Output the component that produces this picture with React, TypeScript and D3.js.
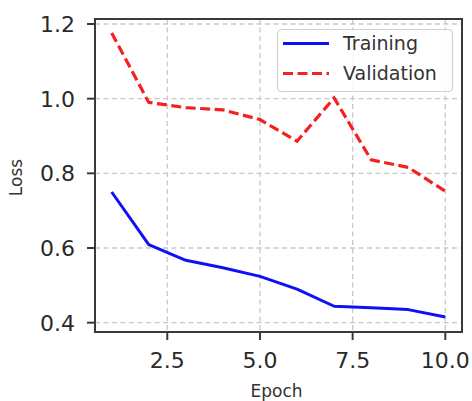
import React, { useRef, useEffect } from 'react';
import * as d3 from 'd3';

const epochs = [1, 2, 3, 4, 5, 6, 7, 8, 9, 10];
const trainingLoss = [0.75, 0.609, 0.567, 0.547, 0.524, 0.49, 0.444, 0.44, 0.435, 0.415];
const validationLoss = [1.176, 0.99, 0.976, 0.97, 0.944, 0.886, 1.002, 0.836, 0.816, 0.752];
const xTicks = [2.5, 5.0, 7.5, 10.0];
const yTicks = [0.4, 0.6, 0.8, 1.0, 1.2];

const App = () => {
  const svgRef = useRef(null);

  useEffect(() => {
    const svg = d3.select(svgRef.current);
    svg.selectAll('*').remove();

    const width = 472;
    const height = 401;
    const left = 95, right = 462, top = 19, bottom = 332;
    const font = 'DejaVu Sans, sans-serif';

    const x = d3.scaleLinear().domain([0.55, 10.45]).range([left, right]);
    const y = d3.scaleLinear().domain([0.375, 1.2134]).range([bottom, top]);

    svg.attr('width', width).attr('height', height);
    svg.append('rect').attr('width', width).attr('height', height).attr('fill', '#fff');

    // grid
    const grid = svg.append('g')
      .attr('stroke', '#c8c8c8')
      .attr('stroke-width', 1.3)
      .attr('stroke-dasharray', '5,3.5');
    xTicks.forEach(t => {
      grid.append('line').attr('x1', x(t)).attr('x2', x(t)).attr('y1', top).attr('y2', bottom);
    });
    yTicks.forEach(t => {
      grid.append('line').attr('x1', left).attr('x2', right).attr('y1', y(t)).attr('y2', y(t));
    });

    // lines
    const line = d3.line<number>()
      .x((d, i) => x(epochs[i]))
      .y(d => y(d));

    svg.append('path')
      .datum(trainingLoss)
      .attr('d', line)
      .attr('fill', 'none')
      .attr('stroke', '#1010f5')
      .attr('stroke-width', 3)
      .attr('stroke-linejoin', 'round');

    svg.append('path')
      .datum(validationLoss)
      .attr('d', line)
      .attr('fill', 'none')
      .attr('stroke', '#f52020')
      .attr('stroke-width', 3.2)
      .attr('stroke-dasharray', '10,4.5');

    // spines
    svg.append('rect')
      .attr('x', left).attr('y', top)
      .attr('width', right - left).attr('height', bottom - top)
      .attr('fill', 'none')
      .attr('stroke', '#3a3a3a')
      .attr('stroke-width', 2);

    // ticks
    const ticks = svg.append('g').attr('stroke', '#3a3a3a').attr('stroke-width', 2);
    xTicks.forEach(t => {
      ticks.append('line').attr('x1', x(t)).attr('x2', x(t)).attr('y1', bottom).attr('y2', bottom + 8);
    });
    yTicks.forEach(t => {
      ticks.append('line').attr('x1', left - 8).attr('x2', left).attr('y1', y(t)).attr('y2', y(t));
    });

    xTicks.forEach(t => {
      svg.append('text')
        .attr('x', x(t)).attr('y', 368)
        .attr('text-anchor', 'middle')
        .attr('font-family', font).attr('font-size', 22)
        .attr('fill', '#2a2a2a')
        .text(t.toFixed(1));
    });
    yTicks.forEach(t => {
      svg.append('text')
        .attr('x', 75).attr('y', y(t))
        .attr('dy', '0.36em')
        .attr('text-anchor', 'end')
        .attr('font-family', font).attr('font-size', 22)
        .attr('fill', '#2a2a2a')
        .text(t.toFixed(1));
    });

    // axis labels
    svg.append('text')
      .attr('x', (left + right) / 2 - 2).attr('y', 397)
      .attr('text-anchor', 'middle')
      .attr('font-family', font).attr('font-size', 17)
      .attr('fill', '#333')
      .text('Epoch');
    svg.append('text')
      .attr('transform', `translate(22, ${(top + bottom) / 2 + 2}) rotate(-90)`)
      .attr('text-anchor', 'middle')
      .attr('font-family', font).attr('font-size', 17)
      .attr('fill', '#333')
      .text('Loss');

    // legend
    const lg = svg.append('g');
    lg.append('rect')
      .attr('x', 277.5).attr('y', 29.5).attr('width', 175).attr('height', 62)
      .attr('rx', 4)
      .attr('fill', 'rgba(255,255,255,0.85)')
      .attr('stroke', '#d0d0d0').attr('stroke-width', 1.2);
    const items = [
      { label: 'Training', color: '#1010f5', dash: null, ly: 43.5 },
      { label: 'Validation', color: '#f52020', dash: '10,4.5', ly: 73.5 }
    ];
    items.forEach(it => {
      const l = lg.append('line')
        .attr('x1', 283).attr('x2', 329)
        .attr('y1', it.ly).attr('y2', it.ly)
        .attr('stroke', it.color).attr('stroke-width', 3);
      if (it.dash) l.attr('stroke-dasharray', it.dash);
      lg.append('text')
        .attr('x', 343).attr('y', it.ly)
        .attr('dy', '0.36em')
        .attr('font-family', font).attr('font-size', 19)
        .attr('fill', '#333')
        .text(it.label);
    });
  }, []);

  return <svg ref={svgRef} style={{ position: 'absolute', left: 0, top: 0 }}></svg>;
};

export default App;
